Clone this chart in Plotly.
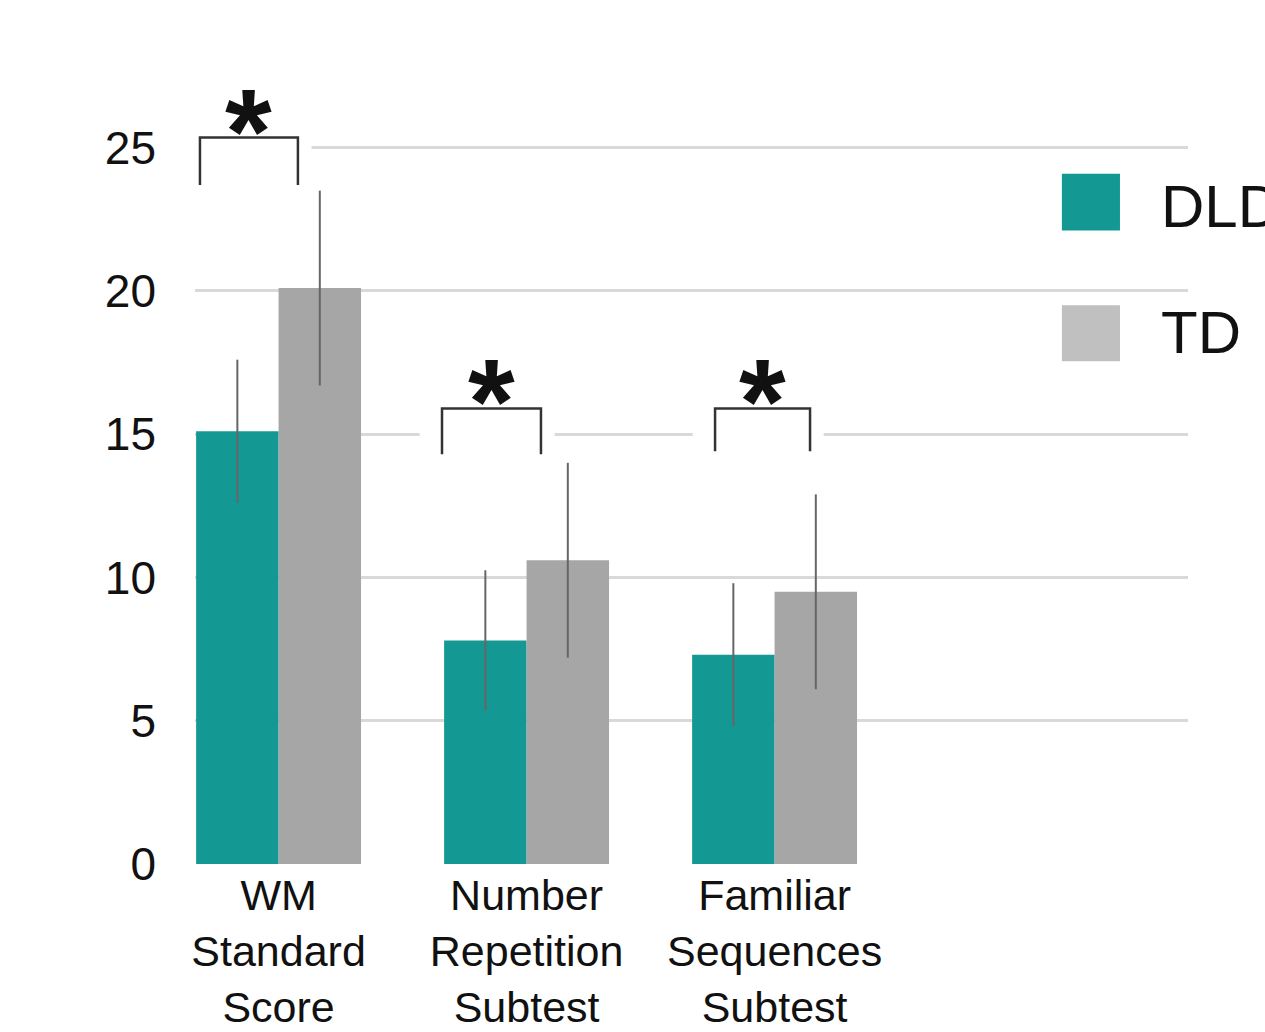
import plotly.graph_objects as go

# Group means and error bar half-widths per subtest
categories = ["WM<br>Standard<br>Score", "Number<br>Repetition<br>Subtest", "Familiar<br>Sequences<br>Subtest"]
groups = ["DLD", "TD"]
dld_mean = [15.1, 7.8, 7.3]
dld_err = [2.5, 2.45, 2.5]
td_mean = [20.1, 10.6, 9.5]
td_err = [3.4, 3.4, 3.4]
y_ticks = [0, 5, 10, 15, 20, 25]

TEAL = "#149893"
GRAY = "#a6a6a6"
GRAY_KEY = "#c0c0c0"
FONT = "Liberation Sans, Arial, sans-serif"

x_pos = list(range(len(categories)))

fig = go.Figure()
fig.add_trace(go.Bar(
    x=x_pos, y=dld_mean, name=groups[0], marker_color=TEAL, marker_line_width=0,
    error_y=dict(type="data", array=dld_err, visible=True, width=0, thickness=2, color="#666666"),
    showlegend=False,
))
fig.add_trace(go.Bar(
    x=x_pos, y=td_mean, name=groups[1], marker_color=GRAY, marker_line_width=0,
    error_y=dict(type="data", array=td_err, visible=True, width=0, thickness=2, color="#666666"),
    showlegend=False,
))

shapes = []
annotations = []

# Significance brackets: (category index, left offset, right offset, bottom, top)
brackets = [
    (0, -0.317, 0.078, 23.7, 25.35),
    (1, -0.341, 0.058, 14.3, 15.9),
    (2, -0.240, 0.143, 14.4, 15.9),
]
for i, lo, hi, yb, yt in brackets:
    x0, x1 = i + lo, i + hi
    # white patch that interrupts the gridline behind the bracket
    shapes.append(dict(type="rect", xref="x", yref="y", layer="between",
                       x0=x0 - 0.09, x1=x1 + 0.055, y0=yb - 0.5, y1=yt + 1.0,
                       fillcolor="white", line_width=0))
    shapes.append(dict(type="path", xref="x", yref="y", layer="above",
                       path=f"M {x0},{yb} L {x0},{yt} L {x1},{yt} L {x1},{yb}",
                       line=dict(color="#333333", width=2.5)))
    annotations.append(dict(x=(x0 + x1) / 2, y=yt, xref="x", yref="y",
                            text="<b>*</b>", showarrow=False, yanchor="bottom",
                            yshift=-62, font=dict(family=FONT, size=120, color="#111111")))

# Legend keys drawn as large squares with labels
keys = [(groups[0], TEAL, 0.876, 0.804, 0.835), (groups[1], GRAY_KEY, 0.709, 0.638, 0.675)]
for label, color, yt, yb, ym in keys:
    shapes.append(dict(type="rect", xref="paper", yref="paper",
                       x0=0.873, x1=0.9315, y0=yb, y1=yt,
                       fillcolor=color, line_width=0))
    annotations.append(dict(x=0.971, y=ym, xref="paper", yref="paper", text=label,
                            showarrow=False, xanchor="left", yanchor="middle",
                            font=dict(family=FONT, size=60, color="#111111")))

fig.update_layout(
    width=1265, height=1032,
    margin=dict(l=195, r=77, t=76, b=168),
    paper_bgcolor="white", plot_bgcolor="white",
    barmode="group", bargap=0.335, bargroupgap=0,
    font=dict(family=FONT, color="#111111"),
    shapes=shapes, annotations=annotations,
    showlegend=False,
)
fig.update_xaxes(
    range=[-0.337, 3.667], tickvals=x_pos, ticktext=categories, automargin=False,
    showgrid=False, zeroline=False, showline=False, ticks="",
    tickfont=dict(size=43, family=FONT, color="#111111"), ticklabelstandoff=2,
)
fig.update_yaxes(
    range=[0, 27.5], tickvals=y_ticks, showgrid=True, gridcolor="#d9d9d9", gridwidth=2.5,
    zeroline=False, showline=False, ticks="", automargin=False,
    tickfont=dict(size=46, family=FONT, color="#111111"), ticklabelstandoff=38,
)

fig.write_html("out.html")
